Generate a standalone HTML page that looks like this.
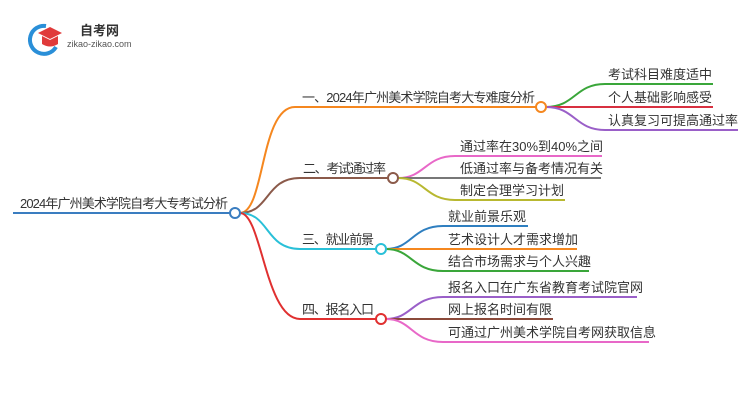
<!DOCTYPE html>
<html><head><meta charset="utf-8"><style>
body{margin:0;background:#fff;width:750px;height:410px;overflow:hidden}
svg text{font-family:"Liberation Sans","Noto Sans CJK SC",sans-serif;fill:#333;font-size:13px}
</style></head><body>
<svg width="750" height="410" viewBox="0 0 750 410" xmlns="http://www.w3.org/2000/svg">
<g fill="none" stroke-width="2">
<path d="M13 213 H230" stroke="#3a7dc0"/>
<path d="M240 213 C265 213 260 107 295 107 H536" stroke="#f5871f"/>
<path d="M240 213 C270 213 265 178 300 178 H388" stroke="#8b5a4a"/>
<path d="M240 213 C270 213 265 249 300 249 H376" stroke="#29c0d8"/>
<path d="M240 213 C262 213 265 319 300 319 H376" stroke="#e03030"/>
<path d="M546 107 C575 107 575 84 605 84 H713" stroke="#3aa63a"/>
<path d="M546 107 H713" stroke="#d83040"/>
<path d="M546 107 C575 107 575 130 605 130 H738" stroke="#9a5fc8"/>
<path d="M398 178 C425 178 425 156 455 156 H602" stroke="#e868c8"/>
<path d="M398 178 H601" stroke="#777"/>
<path d="M398 178 C425 178 425 200 455 200 H565" stroke="#b8b830"/>
<path d="M386 249 C412 249 412 226 443 226 H528" stroke="#2f7fc0"/>
<path d="M386 249 H577" stroke="#f5871f"/>
<path d="M386 249 C412 249 412 271 443 271 H589" stroke="#3aa63a"/>
<path d="M386 319 C412 319 412 297 443 297 H637" stroke="#9a5fc8"/>
<path d="M386 319 H553" stroke="#8b4a3a"/>
<path d="M386 319 C412 319 412 342 443 342 H649" stroke="#e868c8"/>
</g>
<g fill="#fff" stroke-width="2">
<circle cx="235" cy="213" r="5" stroke="#3a7dc0"/>
<circle cx="541" cy="107" r="5" stroke="#f5871f"/>
<circle cx="393" cy="178" r="5" stroke="#8b5a4a"/>
<circle cx="381" cy="249" r="5" stroke="#29c0d8"/>
<circle cx="381" cy="319" r="5" stroke="#e03030"/>
</g>
<text x="20" y="208" textLength="208">2024年广州美术学院自考大专考试分析</text>
<text x="302" y="102" textLength="233">一、2024年广州美术学院自考大专难度分析</text>
<text x="303" y="173" textLength="83">二、考试通过率</text>
<text x="302" y="244" textLength="72">三、就业前景</text>
<text x="302" y="314" textLength="72">四、报名入口</text>
<text x="608" y="79">考试科目难度适中</text>
<text x="608" y="102">个人基础影响感受</text>
<text x="608" y="125">认真复习可提高通过率</text>
<text x="460" y="151">通过率在30%到40%之间</text>
<text x="460" y="173">低通过率与备考情况有关</text>
<text x="460" y="195">制定合理学习计划</text>
<text x="448" y="221">就业前景乐观</text>
<text x="448" y="244">艺术设计人才需求增加</text>
<text x="448" y="266">结合市场需求与个人兴趣</text>
<text x="448" y="292">报名入口在广东省教育考试院官网</text>
<text x="448" y="314">网上报名时间有限</text>
<text x="448" y="337">可通过广州美术学院自考网获取信息</text>
<g>
<path d="M46 26 A14 14 0 1 0 56 47" fill="none" stroke="#2a8fd8" stroke-width="4"/>
<path d="M38 33 L50 27 L62 33 L50 39 Z" fill="#e03a3a"/>
<path d="M42 36 V44 Q50 49 58 44 V36 L50 40 Z" fill="#e03a3a"/>
<text x="80" y="35" style="font-size:13px;font-weight:bold;fill:#333">自考网</text>
<text x="67" y="47" style="font-size:9px;fill:#555">zikao-zikao.com</text>
</g>
</svg>
</body></html>
